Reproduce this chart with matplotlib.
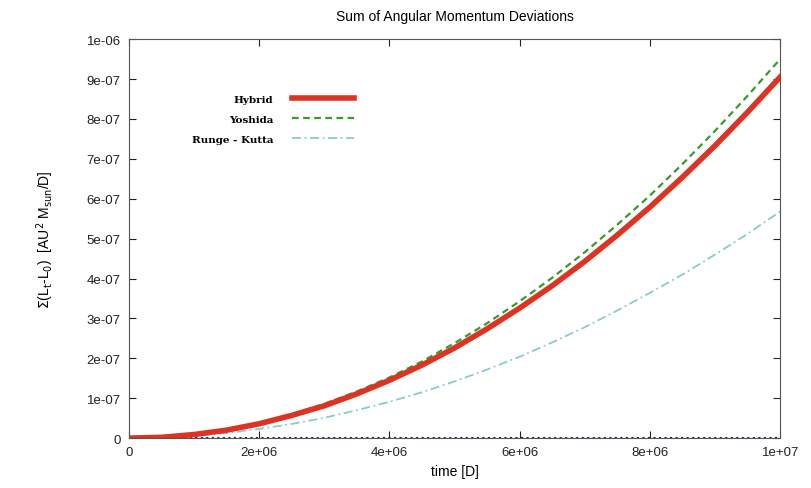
import numpy as np
import matplotlib.pyplot as plt
from matplotlib.ticker import FuncFormatter, MultipleLocator

# Datos (tiempo en D, desviaciones en AU^2 Msun/D)
time = [0, 0.5e6, 1e6, 1.5e6, 2e6, 2.5e6, 3e6, 3.5e6, 4e6, 4.5e6, 5e6,
        5.5e6, 6e6, 6.5e6, 7e6, 7.5e6, 8e6, 8.5e6, 9e6, 9.5e6, 1e7]
hybrid = [0, 0.02e-7, 0.09e-7, 0.20e-7, 0.36e-7, 0.57e-7, 0.81e-7, 1.11e-7, 1.45e-7, 1.83e-7, 2.26e-7,
          2.74e-7, 3.26e-7, 3.82e-7, 4.43e-7, 5.09e-7, 5.79e-7, 6.54e-7, 7.33e-7, 8.17e-7, 9.05e-7]
yoshida = [0, 0.02e-7, 0.10e-7, 0.21e-7, 0.38e-7, 0.60e-7, 0.86e-7, 1.17e-7, 1.52e-7, 1.92e-7, 2.38e-7,
           2.88e-7, 3.43e-7, 4.02e-7, 4.66e-7, 5.35e-7, 6.08e-7, 6.87e-7, 7.70e-7, 8.58e-7, 9.50e-7]
runge_kutta = [0, 0.014e-7, 0.057e-7, 0.128e-7, 0.23e-7, 0.355e-7, 0.51e-7, 0.70e-7, 0.91e-7, 1.15e-7, 1.42e-7,
               1.72e-7, 2.04e-7, 2.40e-7, 2.78e-7, 3.20e-7, 3.64e-7, 4.10e-7, 4.60e-7, 5.12e-7, 5.68e-7]
baseline = [0] * len(time)

plt.rcParams['font.family'] = ['Liberation Sans', 'DejaVu Sans']

fig = plt.figure(figsize=(8.11, 4.89), dpi=100)
ax = fig.add_axes([0.159, 0.102, 0.803, 0.816])

ax.plot(time, baseline, color='#1a1a5a', linestyle=':', linewidth=1.5)
ax.plot(time, runge_kutta, color='#88cccc', linestyle=(0, (5, 2, 1, 2)), linewidth=1.3, label='Runge - Kutta')
ax.plot(time, yoshida, color='#3a9a2a', linestyle=(0, (3, 2)), linewidth=1.6, label='Yoshida')
ax.plot(time, hybrid, color='#dd3322', linewidth=4, label='Hybrid')

ax.set_xlim(0, 1e7)
ax.set_ylim(0, 1e-6)
ax.xaxis.set_major_locator(MultipleLocator(2e6))
ax.yaxis.set_major_locator(MultipleLocator(1e-7))
fmt = FuncFormatter(lambda v, p: '%g' % v)
ax.xaxis.set_major_formatter(fmt)
ax.yaxis.set_major_formatter(fmt)
ax.tick_params(direction='in', top=True, right=True, labelsize=9.5, colors='#222222', length=5, pad=6)
for s in ax.spines.values():
    s.set_color('#555555')

ax.set_title('Sum of Angular Momentum Deviations', fontsize=10, pad=14)
ax.set_xlabel('time [D]', fontsize=10)
ax.set_ylabel(r'$\Sigma$(L$_\mathrm{t}$-L$_0$)  [AU$^2$ M$_\mathrm{sun}$/D]', fontsize=10, labelpad=22)

h, l = ax.get_legend_handles_labels()
leg = ax.legend(h[::-1], l[::-1], loc='upper left', bbox_to_anchor=(0.082, 0.885), frameon=False,
                markerfirst=False, handlelength=6.0, handletextpad=1.8, labelspacing=1.05,
                prop={'family': 'DejaVu Serif', 'weight': 'bold', 'size': 7.5})
for t in leg.get_texts():
    t.set_ha('right')

fig.savefig('out.png', dpi=100)
